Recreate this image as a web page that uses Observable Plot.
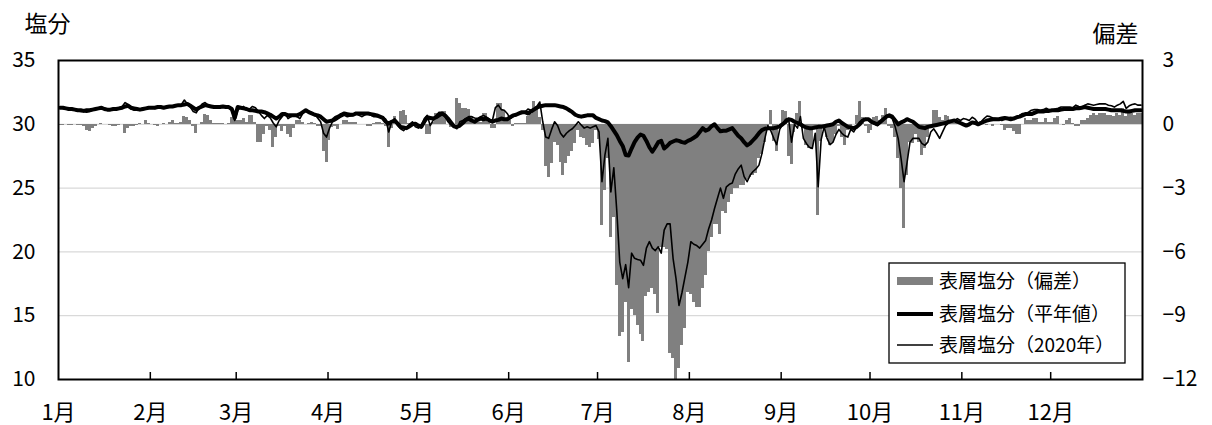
<!DOCTYPE html>
<html><head><meta charset="utf-8">
<script src="https://cdn.jsdelivr.net/npm/d3@7"></script>
<script src="https://cdn.jsdelivr.net/npm/@observablehq/plot@0.6"></script>
<style>body{margin:0;background:#fff;}</style>
</head><body><div id="chart"></div>
<script>
// ---- tick labels / categories ----
const monthLabels = ["1月","2月","3月","4月","5月","6月","7月","8月","9月","10月","11月","12月"];
const monthStarts = [0,31,60,91,121,152,182,213,244,274,305,335];
const leftTicks = [10,15,20,25,30,35];
const leftLabels = ["10","15","20","25","30","35"];
const rightLabels = ["−12","−9","−6","−3","0","3"];
const legendLabels = ["表層塩分（偏差）","表層塩分（平年値）","表層塩分（2020年）"];

// ---- 表層塩分（平年値） daily ----
const normal = [
// Jan
31.3,31.3,31.25,31.2,31.2,31.15,31.1,31.1,31.05,31.1,31.1,31.15,31.2,31.25,31.3,31.2,31.15,31.15,31.2,31.2,31.25,31.3,31.4,31.45,31.3,31.25,31.2,31.15,31.2,31.25,31.3,
// Feb
31.3,31.3,31.35,31.35,31.3,31.35,31.4,31.4,31.45,31.5,31.5,31.55,31.6,31.45,31.3,31.15,31.3,31.4,31.5,31.45,31.4,31.35,31.35,31.35,31.4,31.35,31.35,31.2,30.5,
// Mar
31.35,31.3,31.25,31.2,31.1,31.1,31.05,31.0,31.0,30.95,30.85,30.75,30.6,30.45,30.6,30.8,30.8,30.7,30.7,30.7,30.7,30.8,30.95,31.1,30.95,30.85,30.75,30.7,30.6,30.4,30.2,
// Apr
30.25,30.3,30.5,30.6,30.75,30.85,30.8,30.75,30.75,30.85,30.85,30.85,30.85,30.85,30.8,30.75,30.7,30.6,30.5,30.2,30.05,30.2,30.3,30.05,29.8,29.75,29.7,29.85,30.0,30.05,
// May
29.9,29.8,30.2,30.55,30.5,30.45,30.55,30.7,30.85,30.7,30.45,30.15,29.85,29.8,29.9,30.1,30.35,30.45,30.3,30.2,30.35,30.45,30.4,30.45,30.3,30.2,30.3,30.35,30.45,30.4,30.4,
// Jun
30.55,30.7,30.75,30.85,30.95,30.95,30.85,31.0,31.15,31.3,31.4,31.45,31.5,31.5,31.5,31.5,31.45,31.4,31.35,31.25,31.1,30.95,30.75,30.65,30.6,30.65,30.7,30.7,30.7,30.5,
// Jul
30.4,30.3,30.25,30.15,29.85,29.5,29.15,28.7,28.3,27.6,27.55,28.1,28.6,28.95,29.2,29.1,28.7,28.2,27.85,28.2,28.6,28.7,28.1,28.3,28.55,28.65,28.75,28.7,28.6,28.55,28.7,
// Aug
28.8,28.95,29.1,29.4,29.7,29.5,29.6,29.85,30.0,29.7,29.45,29.5,29.5,29.6,29.7,29.4,29.1,28.9,28.6,28.35,28.5,28.75,29.0,29.3,29.55,29.65,29.7,29.7,29.7,29.75,29.85,
// Sep
30.0,30.2,30.4,30.35,30.2,30.1,30.0,29.85,29.75,29.7,29.7,29.75,29.8,29.8,29.85,29.9,29.95,30.0,30.2,30.3,30.1,29.95,29.8,29.75,29.7,29.8,30.0,30.3,30.4,30.4,
// Oct
30.2,30.1,30.0,30.2,30.4,30.6,30.7,30.6,30.3,30.0,30.15,30.25,30.4,30.3,30.2,30.0,29.8,29.75,29.7,29.8,29.85,29.9,29.95,30.0,30.05,30.1,30.2,30.25,30.3,30.2,30.1,
// Nov
30.0,29.9,30.0,30.15,30.1,30.0,30.1,30.2,30.3,30.35,30.4,30.4,30.4,30.45,30.5,30.45,30.4,30.45,30.55,30.6,30.7,30.8,30.8,30.8,30.9,31.0,31.0,31.0,31.05,31.05,
// Dec
31.1,31.1,31.1,31.15,31.2,31.2,31.2,31.2,31.25,31.25,31.3,31.35,31.3,31.25,31.2,31.2,31.2,31.2,31.2,31.15,31.1,31.1,31.1,31.1,31.05,31.0,31.0,31.05,31.1,31.1,31.1
];

// ---- 表層塩分（2020年） daily ----
const y2020 = [
// Jan
31.3,31.25,31.2,31.15,31.2,31.1,31.05,31.0,31.0,30.95,31.0,31.1,31.2,31.3,31.35,31.25,31.15,31.1,31.15,31.2,31.3,31.4,31.7,31.55,31.2,31.1,31.1,31.2,31.25,31.3,31.3,
// Feb
31.3,31.25,31.3,31.35,31.3,31.35,31.45,31.4,31.45,31.5,31.55,31.9,31.6,31.35,31.0,30.9,31.3,31.6,31.7,31.5,31.35,31.35,31.4,31.35,31.4,31.35,31.3,31.1,30.3,
// Mar
31.1,31.3,31.4,31.1,31.2,31.4,31.3,31.0,30.7,30.45,30.7,30.5,30.1,29.8,30.3,30.6,30.85,30.45,30.6,30.7,30.6,30.45,30.85,31.1,31.0,30.9,30.8,30.5,30.2,29.3,29.0,
// Apr
29.7,30.2,30.3,30.45,30.6,30.7,30.6,30.65,30.7,30.85,30.7,30.6,30.75,30.85,30.7,30.6,30.6,30.6,30.55,30.4,29.4,30.2,30.45,29.9,29.65,29.5,29.75,30.0,30.2,29.8,
// May
29.7,29.9,30.45,30.7,29.9,30.3,30.7,30.95,30.8,30.6,30.2,29.95,29.8,29.65,30.2,30.3,30.45,30.6,30.6,30.5,30.45,30.6,30.7,30.55,30.4,30.3,31.3,31.5,31.15,31.1,30.85,
// Jun
30.45,30.6,30.7,30.85,30.85,30.95,31.2,31.1,31.2,31.4,31.75,30.2,29.0,28.9,29.6,30.2,29.9,29.3,29.0,29.3,29.5,29.65,29.9,30.2,29.95,29.7,29.8,29.7,29.8,29.9,
// Jul
29.4,25.5,27.6,28.9,24.7,26.6,23.2,19.2,17.9,19.0,17.2,19.9,19.5,19.4,19.35,18.95,20.3,20.8,20.3,20.1,20.4,19.9,21.7,22.2,22.2,19.5,17.9,15.8,16.8,18.0,19.2,
// Aug
20.8,20.6,20.5,20.3,20.6,20.9,21.8,22.5,23.4,24.2,25.0,24.2,25.1,25.3,25.4,26.1,26.5,26.8,25.9,25.5,26.0,26.3,26.5,26.8,27.7,28.9,29.9,29.5,28.9,28.4,29.6,
// Sep
30.0,30.4,30.45,28.6,30.0,29.7,30.6,28.9,28.5,28.2,28.1,29.3,25.1,28.8,29.8,28.9,28.4,28.6,29.2,29.6,29.3,29.1,29.0,29.6,29.4,29.8,30.2,30.3,30.45,30.3,
// Oct
30.1,30.0,29.9,30.1,30.3,30.7,30.6,30.45,29.8,28.9,27.3,25.5,27.0,28.6,28.9,28.9,28.9,28.5,28.35,28.6,29.4,29.65,29.3,28.9,29.4,29.9,30.1,30.2,30.3,30.45,30.3,
// Nov
30.45,30.4,30.3,30.55,30.4,30.1,30.2,30.45,30.65,30.6,30.5,30.45,30.4,30.3,30.4,30.5,30.55,30.5,30.45,30.7,30.85,30.85,30.95,31.1,31.15,31.15,31.1,31.15,31.25,31.15,
// Dec
31.1,31.2,31.25,31.35,31.35,31.35,31.35,31.3,31.5,31.4,31.35,31.5,31.6,31.55,31.5,31.55,31.6,31.6,31.6,31.5,31.45,31.35,31.5,31.6,31.8,31.25,31.45,31.55,31.6,31.5,31.5
];

// ---- 表層塩分（偏差） daily, right axis units ----
const deviation = [
// Jan
-0.05,-0.05,-0.03,-0.05,-0.05,0,-0.05,-0.05,-0.1,-0.3,-0.35,-0.2,-0.1,0,0.05,0,-0.03,-0.05,-0.1,-0.1,-0.05,0,-0.45,-0.2,-0.1,-0.1,-0.05,0.05,0,0.2,0.05,
// Feb
0,-0.05,-0.1,0,0.03,0,0.1,0.2,0.05,0.05,0.1,0.35,0.3,0.2,-0.1,-0.45,0,0.1,0.45,0.4,0.2,0.05,0.05,0.03,0.05,0,0.05,0.3,0.3,
// Mar
0.2,0.2,0.25,0.1,0.4,0.4,0.1,-0.85,-0.85,-0.5,-0.1,-0.3,-1.1,-0.6,-0.1,-0.35,-0.1,-0.5,-0.6,-0.2,0.2,0.2,0.1,0,0.05,0.1,0.05,-0.1,-0.1,-1.3,-1.8,
// Apr
-0.75,-0.15,-0.1,-0.25,0,0.2,0.2,0.1,0.1,0.1,0,0,0,-0.1,-0.1,0.05,0.1,0.1,0.05,-0.1,-1.1,-0.2,0.35,0.1,0.6,0.65,0.4,0.05,0.05,0,
// May
0,-0.1,-0.05,-0.5,-0.5,0.1,0.5,0.5,0.6,0.6,0,-0.15,-0.15,1.2,1.0,0.75,0.75,0.7,0.35,0.1,0.1,0.1,0.5,0.5,0.1,-0.2,-0.2,1.0,1.0,0.65,0.2,
// Jun
0.2,-0.1,0.05,0.05,0.05,0.05,0.35,0.45,1.05,0.8,0.3,-0.3,-2.0,-2.5,-1.85,-0.85,-1.0,-1.8,-2.4,-1.85,-1.5,-1.3,-0.9,-0.3,-0.6,-0.65,-1.0,-1.1,-0.9,-0.3,
// Jul
-0.7,-4.75,-3.1,-1.6,-5.3,-4.4,-7.6,-10.0,-9.8,-8.4,-11.2,-8.7,-9.0,-9.45,-9.9,-10.2,-8.1,-7.9,-7.7,-8.0,-8.9,-5.8,-5.8,-5.9,-10.8,-11.0,-12.0,-11.5,-10.4,-9.6,-7.9,
// Aug
-8.0,-8.4,-8.6,-8.6,-7.7,-7.1,-6.0,-5.3,-4.7,-4.7,-5.2,-4.1,-4.2,-3.7,-3.3,-3.0,-3.0,-2.9,-2.9,-2.6,-2.5,-2.4,-2.3,-1.6,-1.4,-0.85,-0.1,0.65,-0.8,-1.3,0,
// Sep
0.65,0.6,-1.5,-1.9,-0.4,0.5,1.05,-0.2,-1.0,-1.15,-1.2,-0.2,-4.3,-0.8,-0.1,-0.6,-1.0,-0.85,-0.5,-0.1,-0.6,-1.0,-0.3,-0.1,0,0.4,1.05,0.3,-0.1,-0.45,
// Oct
-0.3,0.3,0.35,0.2,0.4,0.75,-0.1,-0.2,-0.6,-1.6,-3.0,-4.9,-2.4,-0.85,-0.9,-0.5,-0.85,-1.45,-1.15,-0.6,-0.1,0.65,0.65,0.3,0.2,0.4,0.35,0.1,0.05,0.05,0,
// Nov
0,0.03,0,-0.03,0,0.03,0,0,-0.05,0,-0.1,0,0,-0.05,-0.3,-0.2,-0.2,-0.35,-0.5,-0.5,0,0.25,0.2,0.2,0.25,0.25,0.1,0.1,0.25,0.1,
// Dec
0.1,0.25,0.35,0,-0.05,0.2,0.25,0.05,-0.1,-0.1,0.2,0.2,0.25,0.4,0.5,0.4,0.5,0.5,0.5,0.4,0.4,0.35,0.5,0.4,0.75,0.35,0.55,0.5,0.4,0.5,0.5
];

const days = d3.range(normal.length);
const font = "'Noto Sans CJK JP', 'Noto Sans', sans-serif";
// right axis (偏差): 0 ↔ 30, 3 ↔ 35, −12 ↔ 10
const devToLeft = v => 30 + v * 5 / 3;

const chart = Plot.plot({
  width: 1212, height: 425,
  marginLeft: 58, marginRight: 70, marginTop: 60, marginBottom: 46,
  x: {domain: [0, 366], axis: null},
  y: {domain: [10, 35], axis: null},
  style: {fontFamily: font, background: "white", color: "black", overflow: "visible"},
  marks: [
    Plot.ruleY([15, 20, 25, 30], {stroke: "#d9d9d9", strokeWidth: 1.2}),
    Plot.rect(days, {x1: d => d, x2: d => d + 1, y1: () => 30, y2: d => devToLeft(deviation[d]),
      fill: "#808080", shapeRendering: "crispEdges"}),
    Plot.line(days, {x: d => d + 0.5, y: d => normal[d], stroke: "black", strokeWidth: 4, strokeLinejoin: "round"}),
    Plot.line(days, {x: d => d + 0.5, y: d => y2020[d], stroke: "black", strokeWidth: 1.6, strokeLinejoin: "round"}),
    Plot.frame({stroke: "black", strokeWidth: 2}),
    Plot.ruleX(monthStarts.slice(1), {x: d => d, insetTop: 312, stroke: "black", strokeWidth: 1.5}),
    Plot.text(leftTicks, {y: d => d, text: (d, i) => leftLabels[i], frameAnchor: "left", textAnchor: "end", lineAnchor: "middle", dx: -23, fontSize: 21}),
    Plot.text(leftTicks, {y: d => d, text: (d, i) => rightLabels[i], frameAnchor: "right", textAnchor: "start", lineAnchor: "middle", dx: 20, fontSize: 21}),
    Plot.text(monthStarts, {x: d => d, text: (d, i) => monthLabels[i], frameAnchor: "bottom", textAnchor: "middle", lineAnchor: "middle", dy: 33, fontSize: 22}),
    Plot.text(["塩分"], {text: d => d, frameAnchor: "top-left", textAnchor: "middle", lineAnchor: "middle", dx: -11, dy: -36, fontSize: 23}),
    Plot.text(["偏差"], {text: d => d, frameAnchor: "top-right", textAnchor: "middle", lineAnchor: "middle", dx: -27, dy: -26, fontSize: 23})
  ]
});

// legend
const svg = d3.select(chart);
const lg = svg.append("g").attr("font-family", font).attr("font-size", 19).attr("fill", "black").attr("text-anchor", "start");
lg.append("rect").attr("x", 889).attr("y", 263).attr("width", 236).attr("height", 100)
  .attr("fill", "white").attr("stroke", "black").attr("stroke-width", 1.3);
const rows = [281, 314, 345];
lg.append("rect").attr("x", 897).attr("y", rows[0] - 4).attr("width", 36).attr("height", 8).attr("fill", "#808080");
lg.append("line").attr("x1", 897).attr("x2", 933).attr("y1", rows[1]).attr("y2", rows[1]).attr("stroke", "black").attr("stroke-width", 4);
lg.append("line").attr("x1", 897).attr("x2", 933).attr("y1", rows[2]).attr("y2", rows[2]).attr("stroke", "black").attr("stroke-width", 1.5);
legendLabels.forEach((t, i) => {
  lg.append("text").attr("x", 939).attr("y", rows[i]).attr("dy", "0.35em").attr("text-anchor", "start").text(t);
});

document.getElementById("chart").appendChild(chart);
</script>
</body></html>
